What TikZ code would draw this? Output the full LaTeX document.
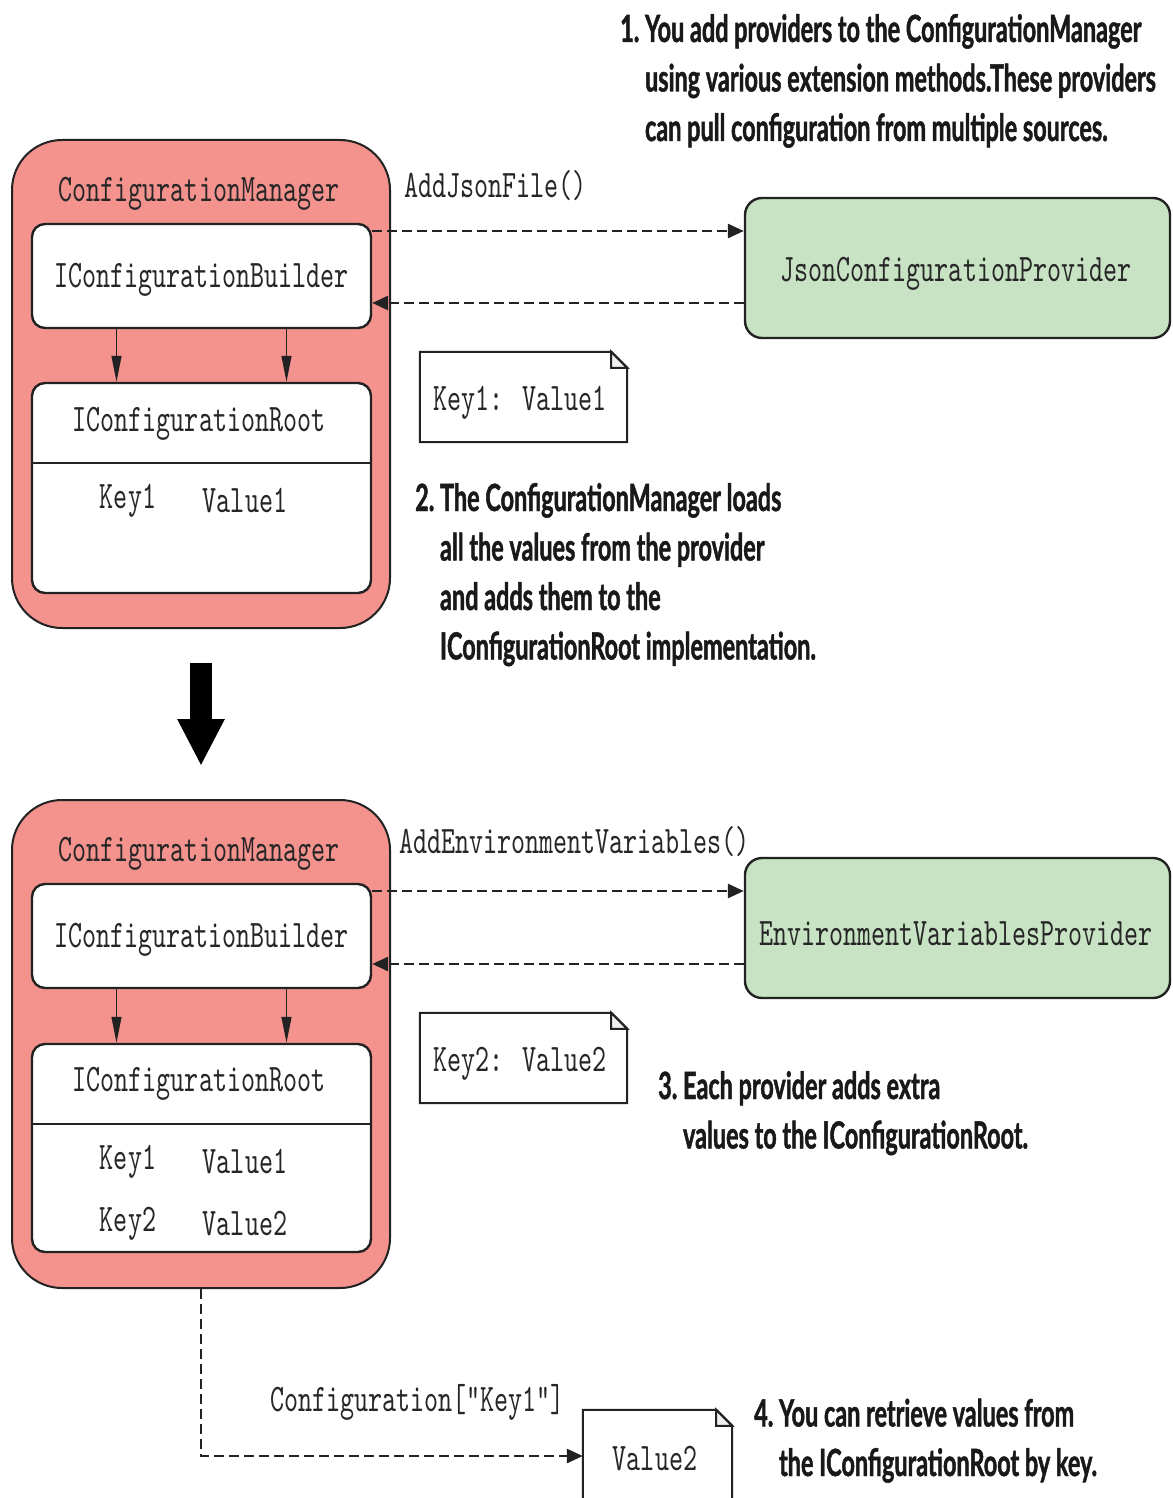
\documentclass[tikz,border=0pt]{standalone}
\usepackage{fontspec}
\newfontfamily\codefont{lmmono10-regular}[Extension=.otf,FakeStretch=0.685]
\newfontfamily\notefont[FakeStretch=0.625,FakeBold=1.2]{Lato}
\usetikzlibrary{arrows.meta,positioning,calc}
\definecolor{mgrpink}{HTML}{F4928E}
\definecolor{provgreen}{HTML}{C8E3C4}
\definecolor{inkline}{HTML}{222222}
\newcommand{\dogear}[1]{%
  \draw[noteline] (#1.north west) -- ([xshift=-16]#1.north east) -- ([yshift=-16]#1.north east) -- (#1.south east) -- (#1.south west) -- cycle;
  \filldraw[noteline,fill=black!6] ([xshift=-16]#1.north east) -- ([xshift=-16,yshift=-16]#1.north east) -- ([yshift=-16]#1.north east) -- cycle;}

\begin{document}
\begin{tikzpicture}[x=1pt,y=-1pt,
  code/.style={font=\codefont\fontsize{39}{44}\selectfont,text=black!85,inner sep=0,yshift=-4},
  remark/.style={font=\notefont\bfseries\fontsize{37.5}{49.5}\selectfont,text=black!90,align=left,inner sep=0,anchor=base west},
  mgrbox/.style={draw=inkline,line width=2,fill=mgrpink,rounded corners=50,inner sep=0,minimum width=378,minimum height=488},
  whitebox/.style={draw=inkline,line width=2.4,fill=white,rounded corners=13,inner sep=0,minimum width=339},
  provbox/.style={draw=inkline,line width=2.4,fill=provgreen,rounded corners=17,inner sep=0,minimum width=425,minimum height=140},
  notebox/.style={inner sep=0,minimum width=207,minimum height=90},
  noteline/.style={draw=inkline,line width=2},
  flow/.style={draw=inkline,line width=2.8,dash pattern=on 10pt off 5pt,-{Triangle[length=16,width=14]}},
  feed/.style={draw=inkline,line width=1.3,-{Triangle[length=26,width=10]}},
  bigarrow/.style={draw=black,line width=22,-{Triangle[length=47,width=44]},shorten <=34,shorten >=33}]
\useasboundingbox (0,0) rectangle (1172,1498);

% multi-line remarks sit on the baseline of their last line
\node[remark] (stepone) at (620,141) {1.\ You add providers to the ConfigurationManager\\\phantom{1.\ }using various extension methods.These providers\\\phantom{1.\ }can pull configuration from multiple sources.};

\node[mgrbox] (mgrA) at (201,384) {};
\node[code] (mgrAtitle) at (199,190) {ConfigurationManager};
\node[whitebox,minimum height=104] (bldA) at (201.5,276) {};
\node[code] at (bldA) {IConfigurationBuilder};
\node[whitebox,minimum height=210] (rootA) at (201.5,488) {};
\node[code] (rootAtitle) at (199,420) {IConfigurationRoot};
\draw[inkline,line width=2] (rootA.west |- 0,463) -- (rootA.east |- 0,463);
\node[code] (keyA) at (128,497) {Key1};
\node[code] (valA) at (245,497) {Value1};
\draw[feed] ([xshift=-85]bldA.south) -- ([xshift=-85]rootA.north);
\draw[feed] ([xshift=85]bldA.south) -- ([xshift=85]rootA.north);

\node[provbox] (jsonprov) at (957.5,268) {};
\node[code] at (956,270) {JsonConfigurationProvider};
\node[code,anchor=west] (addjson) at (404,182) {AddJsonFile()};
\draw[flow] ([yshift=45]bldA.east) -- ([yshift=45]bldA.east -| jsonprov.west);
\draw[flow] ([yshift=-27]bldA.east -| jsonprov.west) -- ([yshift=-27]bldA.east);

\node[notebox] (noteA) at (523.5,397) {};
\dogear{noteA}
\node[code] at (520,399) {Key1: Value1};

\node[remark] (steptwo) at (415,659.5) {2.\ The ConfigurationManager loads\\\phantom{2.\ }all the values from the provider\\\phantom{2.\ }and adds them to the\\\phantom{2.\ }IConfigurationRoot implementation.};

\node[mgrbox] (mgrB) at (201,1044) {};
\draw[bigarrow] (mgrA.south) -- (mgrB.north);
\node[code] (mgrBtitle) at (199,850) {ConfigurationManager};
\node[whitebox,minimum height=104] (bldB) at (201.5,936) {};
\node[code] at (bldB) {IConfigurationBuilder};
\node[whitebox,minimum height=208] (rootB) at (201.5,1148) {};
\node[code] (rootBtitle) at (199,1080) {IConfigurationRoot};
\draw[inkline,line width=2] (rootB.west |- 0,1124) -- (rootB.east |- 0,1124);
\node[code] (keyB) at (128,1158) {Key1};
\node[code] (valB) at (245,1158) {Value1};
\node[code] (keyC) at (128,1220) {Key2};
\node[code] (valC) at (245,1220) {Value2};
\draw[feed] ([xshift=-85]bldB.south) -- ([xshift=-85]rootB.north);
\draw[feed] ([xshift=85]bldB.south) -- ([xshift=85]rootB.north);

\node[provbox] (envprov) at (957.5,928) {};
\node[code] at (956,930) {EnvironmentVariablesProvider};
\node[code,anchor=west] (addenv) at (399,838) {AddEnvironmentVariables()};
\draw[flow] ([yshift=45]bldB.east) -- ([yshift=45]bldB.east -| envprov.west);
\draw[flow] ([yshift=-28]bldB.east -| envprov.west) -- ([yshift=-28]bldB.east);

\node[notebox] (noteB) at (523.5,1058) {};
\dogear{noteB}
\node[code] at (520,1060) {Key2: Value2};

\node[remark] (stepthree) at (658,1148.5) {3.\ Each provider adds extra\\\phantom{3.\ }values to the IConfigurationRoot.};

\node[notebox,minimum width=149,minimum height=92] (valnote) at (657.5,1456) {};
\dogear{valnote}
\node[code] at (655,1455) {Value2};
\node[code,anchor=west] (lookup) at (270,1398) {Configuration["Key1"]};
\draw[flow] (mgrB.south) |- (valnote.west);

\node[remark] (stepfour) at (754,1476) {4.\ You can retrieve values from\\\phantom{4.\ }the IConfigurationRoot by key.};
\end{tikzpicture}
\end{document}
